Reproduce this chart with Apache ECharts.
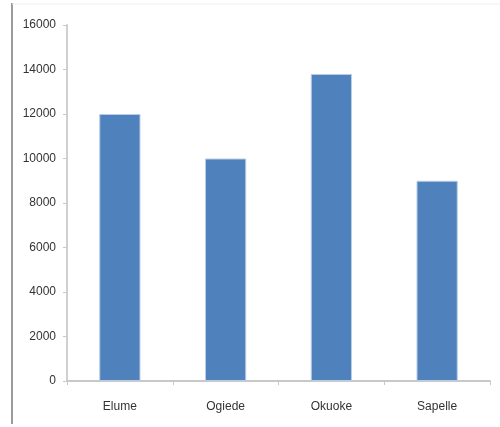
<!DOCTYPE html>
<html>
<head>
<meta charset="utf-8">
<script src="https://cdn.jsdelivr.net/npm/echarts@6/dist/echarts.min.js"></script>
<style>
  html, body { margin: 0; padding: 0; background: #fff; }
  #chart { width: 500px; height: 427px; }
</style>
</head>
<body>
<div id="chart"></div>
<script>
const categories = ['Elume', 'Ogiede', 'Okuoke', 'Sapelle'];
const values = [12000, 10000, 13800, 9000];
const yMin = 0, yMax = 16000, yStep = 2000;

const chart = echarts.init(document.getElementById('chart'), null, { renderer: 'canvas' });
chart.setOption({
  animation: false,
  backgroundColor: '#ffffff',
  grid: { left: 67, right: 10, top: 25, bottom: 46, containLabel: false },
  xAxis: {
    type: 'category',
    data: categories,
    axisLine: { show: true, lineStyle: { color: '#c8c8c8', width: 2 } },
    axisTick: { show: true, alignWithLabel: false, length: 4, lineStyle: { color: '#c8c8c8' } },
    axisLabel: { color: '#333333', fontSize: 12, fontFamily: 'Liberation Sans Narrow, Liberation Sans, sans-serif', margin: 20 }
  },
  yAxis: {
    type: 'value',
    min: yMin, max: yMax, interval: yStep,
    axisLine: { show: true, lineStyle: { color: '#d0d0d0', width: 2 } },
    axisTick: { show: true, length: 4, lineStyle: { color: '#c8c8c8' } },
    splitLine: { show: false },
    axisLabel: {
      color: '#333333', fontSize: 12,
      fontFamily: 'Liberation Sans Narrow, Liberation Sans, sans-serif',
      margin: 11,
      formatter: v => String(v)
    }
  },
  series: [{
    type: 'bar',
    data: values,
    barWidth: '39%',
    itemStyle: { color: '#4f81bd', borderColor: '#b9cde6', borderWidth: 1 }
  }],
  graphic: [
    { type: 'line', shape: { x1: 12, y1: 3, x2: 12, y2: 424 }, style: { stroke: '#9a9a9a', lineWidth: 2 } },
    { type: 'line', shape: { x1: 12, y1: 4, x2: 500, y2: 4 }, style: { stroke: '#eeeeee', lineWidth: 1 } }
  ]
});
</script>
</body>
</html>
